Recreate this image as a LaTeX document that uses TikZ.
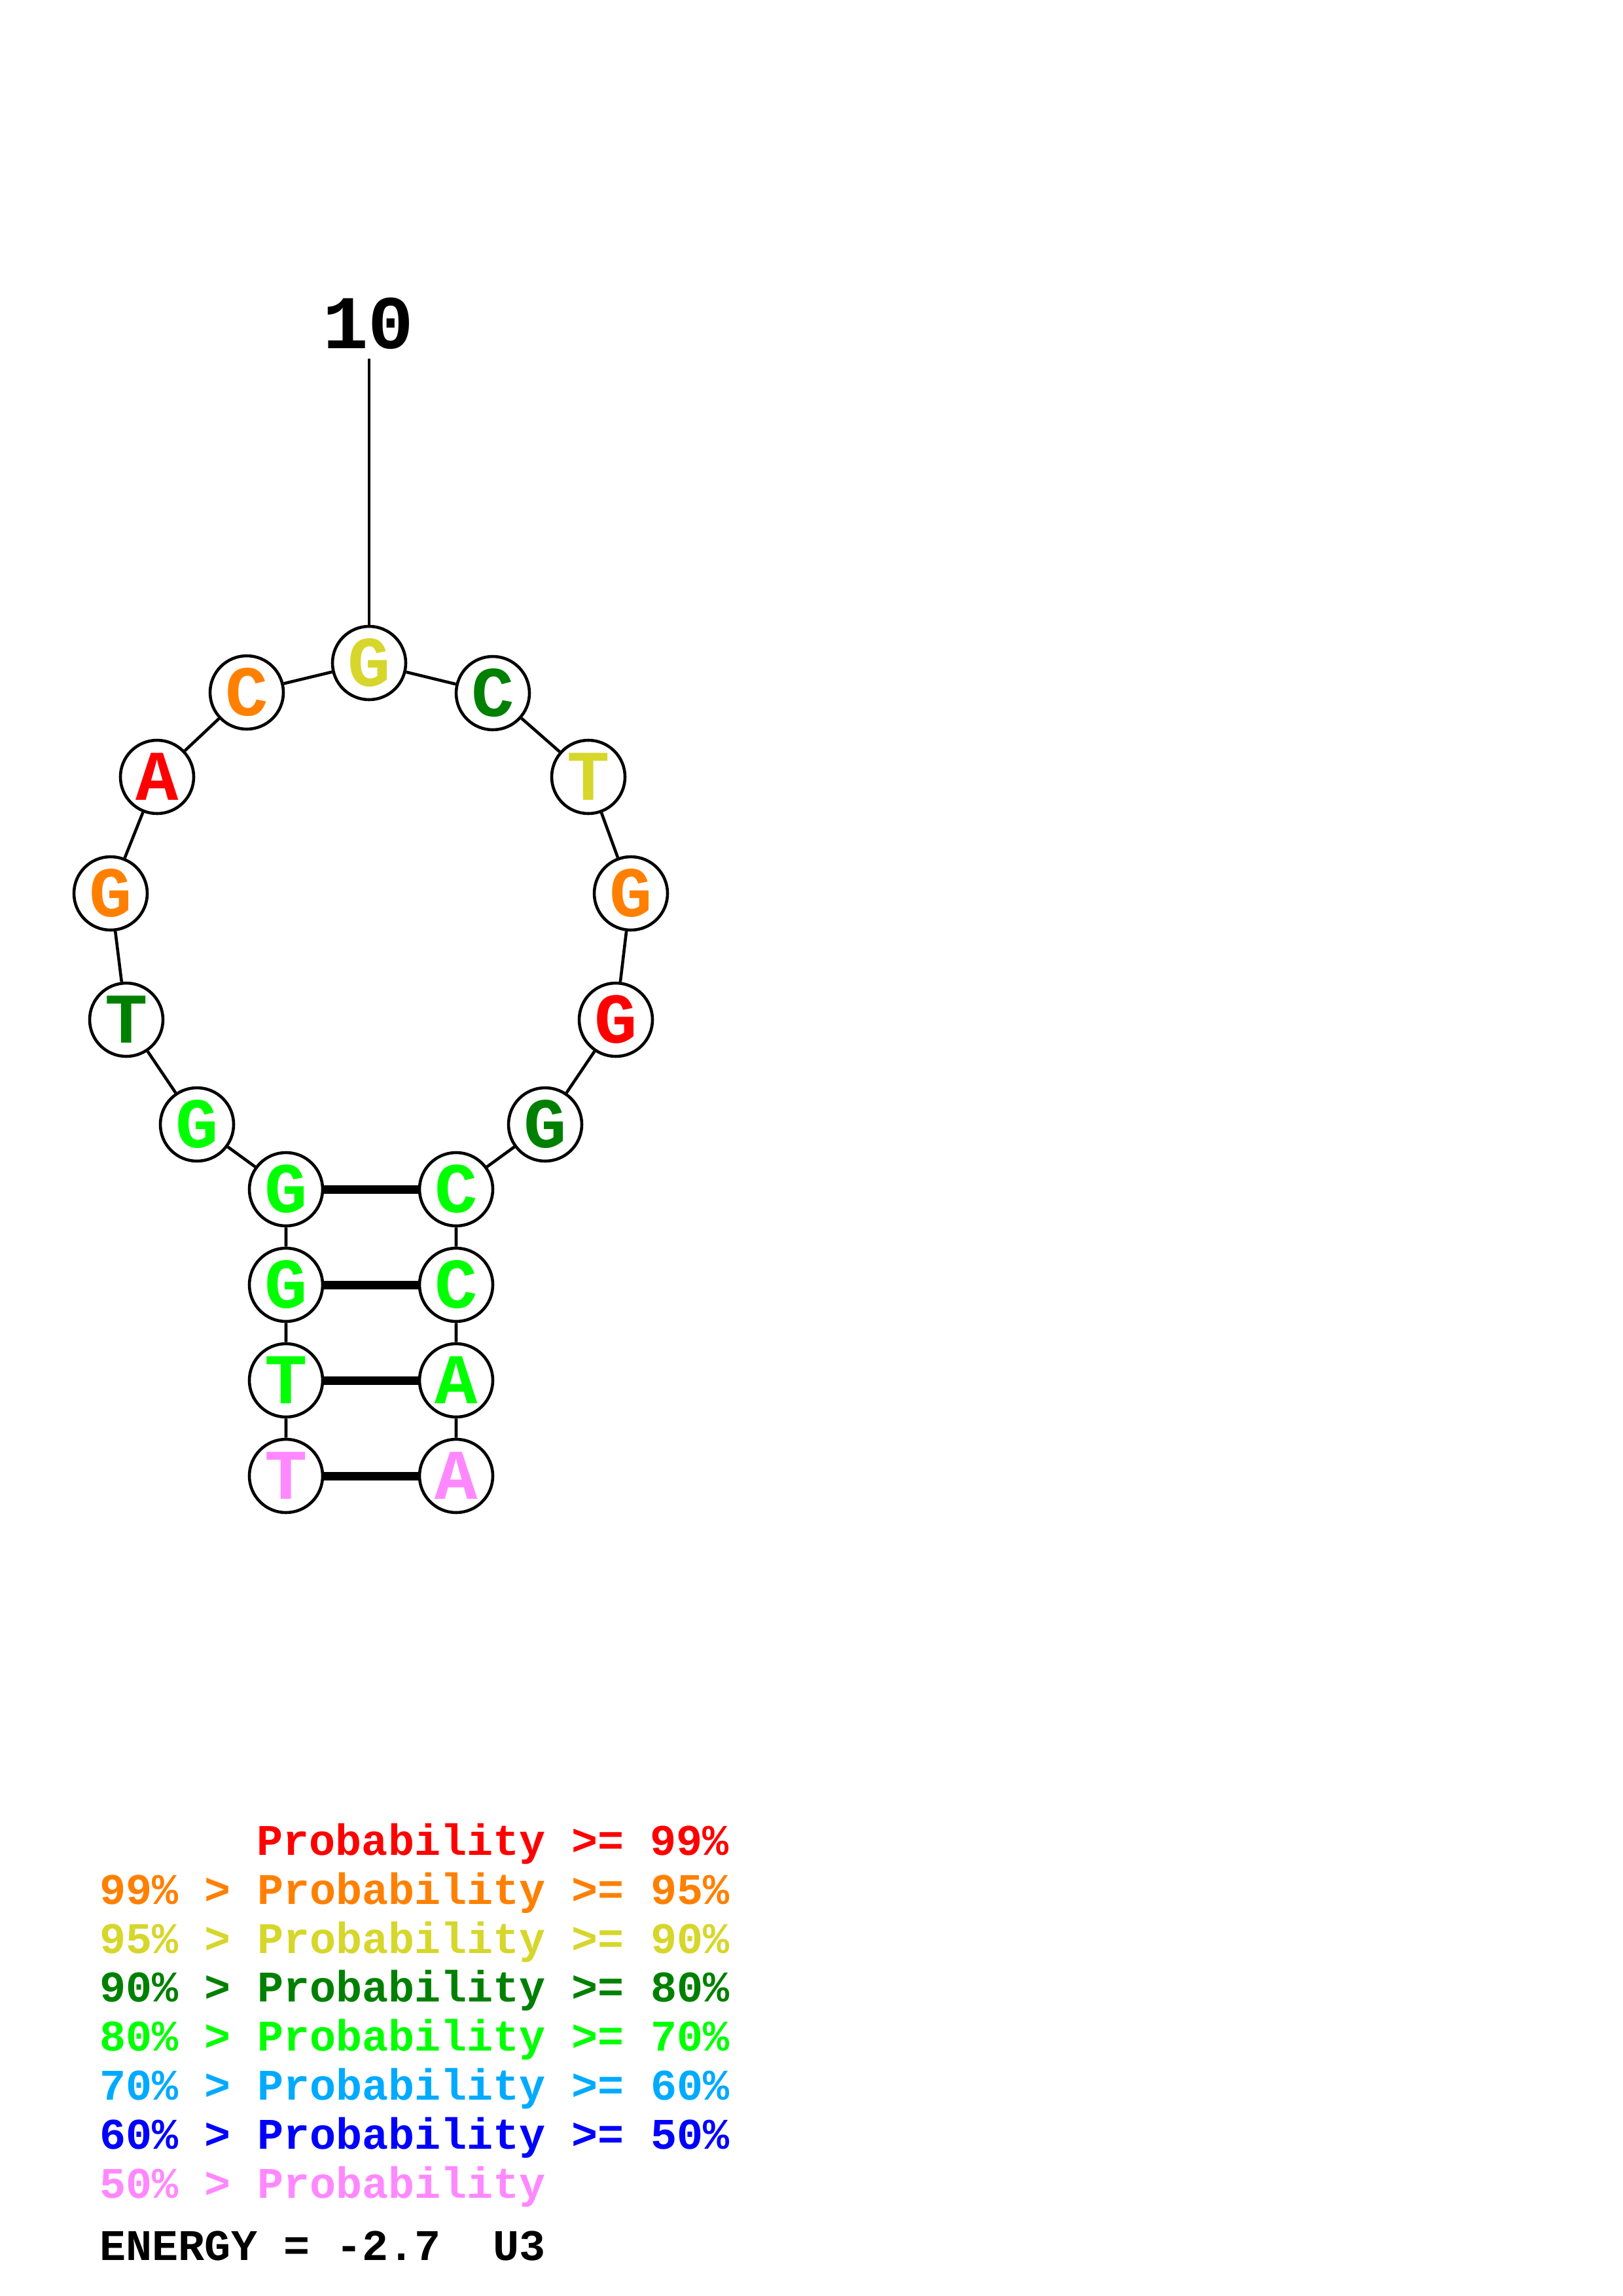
\documentclass[tikz,border=0pt]{standalone}
\usepackage{fontspec}
\newfontfamily\basefont{Liberation Mono}
\usepackage{tikz}

\definecolor{pred}{RGB}{255,0,0}
\definecolor{porange}{RGB}{255,128,0}
\definecolor{pyellow}{RGB}{214,214,43}
\definecolor{pdkgreen}{RGB}{0,128,0}
\definecolor{pgreen}{RGB}{0,255,0}
\definecolor{pltblue}{RGB}{0,170,255}
\definecolor{pblue}{RGB}{0,0,255}
\definecolor{ppink}{RGB}{255,136,255}

\begin{document}
\begin{tikzpicture}[
    base/.style={circle, draw, line width=1.3pt, fill=white, minimum size=1.12cm,
      inner sep=0pt, font=\basefont\bfseries\fontsize{31pt}{31pt}\selectfont},
    chain/.style={line width=1.3pt},
    pair/.style={line width=3.7pt},
    legend/.style={anchor=base west, inner sep=0pt,
      font=\basefont\bfseries\fontsize{19pt}{19pt}\selectfont}
  ]
    \useasboundingbox (0,0) rectangle (24.79,-35.08);

    % stem, 5' side
    \node[base, text=ppink]    (n1)  at (4.37,-22.55) {T};
    \node[base, text=pgreen]   (n2)  at (4.37,-21.09) {T};
    \node[base, text=pgreen]   (n3)  at (4.37,-19.63) {G};
    \node[base, text=pgreen]   (n4)  at (4.37,-18.17) {G};
    % hairpin loop
    \node[base, text=pgreen]   (n5)  at (3.01,-17.18) {G};
    \node[base, text=pdkgreen] (n6)  at (1.93,-15.58) {T};
    \node[base, text=porange]  (n7)  at (1.69,-13.65) {G};
    \node[base, text=pred]     (n8)  at (2.40,-11.87) {A};
    \node[base, text=porange]  (n9)  at (3.77,-10.58) {C};
    \node[base, text=pyellow]  (n10) at (5.64,-10.13) {G};
    \node[base, text=pdkgreen] (n11) at (7.53,-10.59) {C};
    \node[base, text=pyellow]  (n12) at (8.99,-11.87) {T};
    \node[base, text=porange]  (n13) at (9.64,-13.65) {G};
    \node[base, text=pred]     (n14) at (9.41,-15.58) {G};
    \node[base, text=pdkgreen] (n15) at (8.33,-17.18) {G};
    % stem, 3' side
    \node[base, text=pgreen]   (n16) at (6.97,-18.17) {C};
    \node[base, text=pgreen]   (n17) at (6.97,-19.63) {C};
    \node[base, text=pgreen]   (n18) at (6.97,-21.09) {A};
    \node[base, text=ppink]    (n19) at (6.97,-22.55) {A};

    % position label
    \node[font=\basefont\bfseries\fontsize{33pt}{33pt}\selectfont] (num) at (5.63,-4.94) {10};
    \coordinate (tick) at (5.64,-5.48);
    \draw[chain] (tick) -- (n10);

    % backbone
    \draw[chain] (n1) -- (n2) -- (n3) -- (n4) -- (n5) -- (n6) -- (n7) -- (n8) -- (n9) -- (n10);
    \draw[chain] (n10) -- (n11) -- (n12) -- (n13) -- (n14) -- (n15) -- (n16) -- (n17) -- (n18) -- (n19);

    % base pairs
    \draw[pair] (n4) -- (n16);
    \draw[pair] (n3) -- (n17);
    \draw[pair] (n2) -- (n18);
    \draw[pair] (n1) -- (n19);

    % legend
    \node[legend, text=pred]     (l1) at (3.92,-28.34) {Probability >= 99\%};
    \node[legend, text=porange]  (l2) at (1.52,-29.09) {99\% > Probability >= 95\%};
    \node[legend, text=pyellow]  (l3) at (1.52,-29.84) {95\% > Probability >= 90\%};
    \node[legend, text=pdkgreen] (l4) at (1.52,-30.58) {90\% > Probability >= 80\%};
    \node[legend, text=pgreen]   (l5) at (1.52,-31.33) {80\% > Probability >= 70\%};
    \node[legend, text=pltblue]  (l6) at (1.52,-32.08) {70\% > Probability >= 60\%};
    \node[legend, text=pblue]    (l7) at (1.52,-32.83) {60\% > Probability >= 50\%};
    \node[legend, text=ppink]    (l8) at (1.52,-33.58) {50\% > Probability};
    \node[legend]                (en) at (1.52,-34.53) {ENERGY = -2.7\ \ U3};
\end{tikzpicture}
\end{document}
